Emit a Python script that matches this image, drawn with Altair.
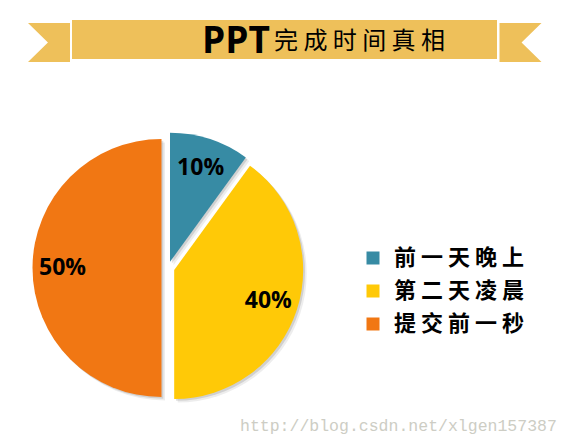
import altair as alt
import pandas as pd

# ---- data ----
categories = ["前一天晚上", "第二天凌晨", "提交前一秒"]
values = [10, 40, 50]
labels = ["10%", "40%", "50%"]
colors = ["#378BA4", "#FFC907", "#F17713"]
title_a = "PPT"
title_b = "完成时间真相"
watermark = "http://blog.csdn.net/xlgen157387"

df = pd.DataFrame({"cat": categories, "value": values, "label": labels,
                   "order": list(range(len(categories)))})

# ---- geometry / style ----
W, H = 554, 430
CX, CY, EXPLODE, R, LR = 160, 260, 6.5, 129, 99
BANNER = "#EEC05A"
SPACED = "join(split(datum.{f}, ''), ' ')"

base = (
    alt.Chart(df)
    .transform_window(cum="sum(value)", sort=[alt.SortField("order")], frame=[None, 0])
    .transform_joinaggregate(total="sum(value)")
    .transform_calculate(start="2*PI*(datum.cum-datum.value)/datum.total",
                         end="2*PI*datum.cum/datum.total")
    .transform_calculate(mid="(datum.start+datum.end)/2")
    .transform_calculate(cx=f"{CX}+{EXPLODE}*sin(datum.mid)",
                         cy=f"{CY}-{EXPLODE}*cos(datum.mid)")
    .transform_calculate(lx=f"datum.cx+{LR}*sin(datum.mid)",
                         ly=f"datum.cy-{LR}*cos(datum.mid)")
)

pos = dict(
    x=alt.X("cx:Q", scale=None, axis=None),
    y=alt.Y("cy:Q", scale=None, axis=None),
    theta=alt.Theta("start:Q", scale=None, stack=None),
    theta2="end:Q",
)

shadow1 = base.mark_arc(outerRadius=R, color="#000000", opacity=0.07,
                        xOffset=3.5, yOffset=3.5).encode(**pos)
shadow2 = base.mark_arc(outerRadius=R, color="#000000", opacity=0.12,
                        xOffset=1.8, yOffset=1.8).encode(**pos)

pie = base.mark_arc(outerRadius=R).encode(
    **pos,
    color=alt.Color(
        "cat:N",
        scale=alt.Scale(domain=categories, range=colors),
        legend=alt.Legend(
            title=None, orient="none", legendX=354, legendY=239,
            symbolType="square", symbolSize=169, symbolStrokeWidth=0,
            symbolOpacity=1, labelFont="Noto Sans CJK SC", labelFontSize=22,
            labelFontWeight="bold",
            labelColor="black", labelOffset=10, rowPadding=11, padding=0,
            labelExpr=SPACED.format(f="label"),
        ),
    ),
)

pct = base.mark_text(font="Open Sans", fontWeight="bold", fontSize=23,
                     color="black", baseline="middle").encode(
    x=alt.X("lx:Q", scale=None, axis=None),
    y=alt.Y("ly:Q", scale=None, axis=None),
    text="label:N",
)

one = pd.DataFrame({"k": [0]})

banner = alt.Chart(one).mark_rect(color=BANNER).encode(
    x=alt.value(64), x2=alt.value(489), y=alt.value(12), y2=alt.value(51))

tail_l = alt.Chart(one).mark_point(
    shape="M -1 -0.929 L 1 -0.929 L 1 0.929 L -1 0.929 L -0.05 0 Z",
    filled=True, size=1764, color=BANNER, opacity=1, strokeWidth=0,
).encode(x=alt.value(41), y=alt.value(34.5))

tail_r = alt.Chart(one).mark_point(
    shape="M 1 -0.929 L -1 -0.929 L -1 0.929 L 1 0.929 L 0.05 0 Z",
    filled=True, size=1764, color=BANNER, opacity=1, strokeWidth=0,
).encode(x=alt.value(512.5), y=alt.value(34.5))

t_a = alt.Chart(pd.DataFrame({"t": [title_a]})).mark_text(
    font="Open Sans", fontWeight="bold", fontSize=37, align="right",
    baseline="alphabetic", color="black",
).encode(x=alt.value(262), y=alt.value(45), text="t:N")

t_b = alt.Chart(pd.DataFrame({"t": [title_b]})).transform_calculate(
    s=SPACED.format(f="t")
).mark_text(
    font="Noto Sans CJK SC", fontSize=24, align="left", baseline="middle",
    color="black",
).encode(x=alt.value(266), y=alt.value(34), text="s:N")

wm = alt.Chart(pd.DataFrame({"t": [watermark]})).mark_text(
    font="Liberation Mono", fontSize=16.5, align="left", baseline="middle",
    color="#CDCDC4",
).encode(x=alt.value(232), y=alt.value(417.5), text="t:N")

chart = (
    alt.layer(banner, tail_l, tail_r, t_a, t_b, shadow1, shadow2, pie, pct, wm)
    .properties(width=W, height=H, padding=0, autosize=alt.AutoSizeParams(type="none"),
                background="white")
    .configure_view(stroke=None)
)

chart.save("out.html", embed_options={"renderer": "svg", "actions": False})
